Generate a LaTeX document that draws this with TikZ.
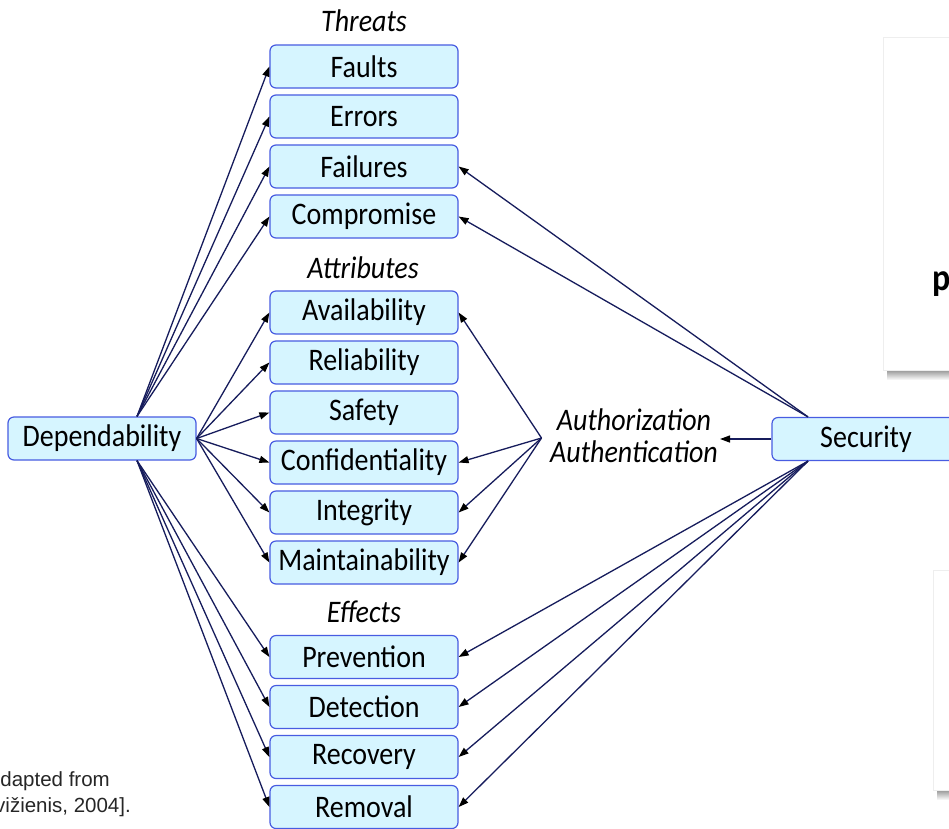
\documentclass[tikz,border=0pt]{standalone}
\usepackage{fontspec}
\setmainfont{Carlito}
\newfontfamily\notefont{Liberation Sans}
\usetikzlibrary{arrows.meta}

\definecolor{boxfill}{RGB}{214,245,255}
\definecolor{boxline}{RGB}{72,92,225}
\definecolor{linkcol}{RGB}{22,28,92}
\definecolor{panelline}{RGB}{238,238,238}

% Calibri-style lettering is set a little taller than wide
\newcommand{\tallt}[1]{\scalebox{1}[1.12]{#1}}

\tikzset{
  box/.style={draw=boxline, fill=boxfill, line width=1.2pt, rounded corners=6pt,
    minimum width=188pt, minimum height=43pt, inner sep=0pt,
    font=\fontsize{28}{30}\selectfont},
  head/.style={inner sep=0pt, font=\fontsize{28}{30}\selectfont\itshape},
  link/.style={draw=linkcol, line width=1.3pt,
    -{Triangle[length=10pt,width=7pt,color=black]}},
}

\begin{document}
\begin{tikzpicture}[x=1pt,y=-1pt]
\useasboundingbox (0,0) rectangle (949,828);
\clip (0,0) rectangle (949,828);
\fill[white] (0,0) rectangle (949,828);

% side panels with their shadows
\shade[top color=black!45, bottom color=white] (887,369) rectangle (960,380);
\fill[white, draw=panelline, line width=0.6pt] (883,37) rectangle (965,370);
\node[anchor=base west, inner sep=0pt, font=\fontsize{34}{36}\selectfont\bfseries] (ptxt) at (932,290) {\tallt{p}};
\shade[top color=black!45, bottom color=white] (937,789) rectangle (960,800);
\fill[white, draw=panelline, line width=0.6pt] (933,570) rectangle (965,790);

% source note
\node[anchor=base east, inner sep=0pt, font=\fontsize{20.5}{22}\notefont, text=black!85] (note1) at (110,786) {Adapted from};
\node[anchor=base east, inner sep=0pt, font=\fontsize{20.5}{22}\notefont, text=black!85] (note2) at (131,812) {[Avižienis, 2004].};

% headings
\node[head] (hthreat) at (364,21) {\tallt{Threats}};
\node[head] (hattr) at (363,268) {\tallt{Attributes}};
\node[head] (heff) at (364,612) {\tallt{Effects}};

% threats
\node[box] (faults) at (364,66.5) {\tallt{Faults}};
\node[box] (errors) at (364,116.5) {\tallt{Errors}};
\node[box] (failures) at (364,166.5) {\tallt{Failures}};
\node[box] (compromise) at (364,216.5) {\tallt{Compromise}};

% attributes
\node[box] (avail) at (364,312.5) {\tallt{Availability}};
\node[box] (reli) at (364,362.5) {\tallt{Reliability}};
\node[box] (safety) at (364,412.5) {\tallt{Safety}};
\node[box] (confid) at (364,462.5) {\tallt{Confidentiality}};
\node[box] (integ) at (364,512.5) {\tallt{Integrity}};
\node[box] (maint) at (364,562.5) {\tallt{Maintainability}};

% effects
\node[box] (prev) at (364,657) {\tallt{Prevention}};
\node[box] (detect) at (364,707) {\tallt{Detection}};
\node[box] (recov) at (364,757) {\tallt{Recovery}};
\node[box] (remov) at (364,807) {\tallt{Removal}};

% main concepts
\node[box] (dep) at (102,438.5) {\tallt{Dependability}};
\node[box] (sec) at (866,439) {\tallt{Security}};

% authorization / authentication
\node[head, anchor=base] (authA) at (634,430) {\tallt{Authorization}};
\node[head, anchor=base] (authB) at (634,462) {\tallt{Authentication}};
\coordinate (authL) at (541.5,438);
\coordinate (authR) at (720,439);

% dependability branches
\coordinate (depT) at ([xshift=35pt]dep.north);
\coordinate (depB) at ([xshift=35pt]dep.south);
\foreach \t in {faults,errors,failures,compromise}
  \draw[link] (depT) -- (\t.west);
\foreach \t in {avail,reli,safety,confid,integ,maint}
  \draw[link] (dep.east) -- (\t.west);
\foreach \t in {prev,detect,recov,remov}
  \draw[link] (depB) -- (\t.west);

% security branches
\coordinate (secT) at ([xshift=-58pt]sec.north);
\coordinate (secB) at ([xshift=-58pt]sec.south);
\foreach \t in {failures,compromise}
  \draw[link] (secT) -- (\t.east);
\foreach \t in {prev,detect,recov,remov}
  \draw[link] (secB) -- (\t.east);
\draw[link] (sec.west) -- (authR);
\foreach \t in {avail,confid,integ,maint}
  \draw[link] (authL) -- (\t.east);
\end{tikzpicture}
\end{document}
